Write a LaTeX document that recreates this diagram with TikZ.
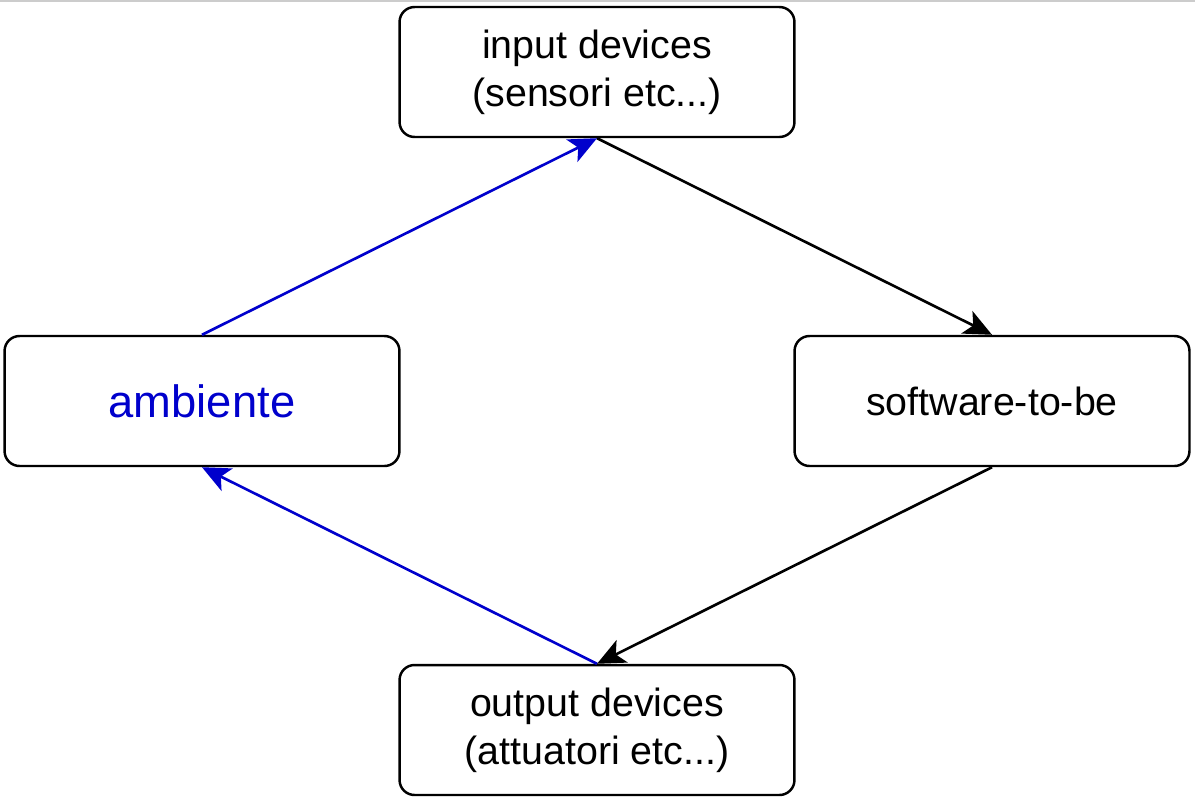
\documentclass[tikz,border=0pt]{standalone}
\usepackage{fontspec}
\setmainfont{Liberation Sans}
\usetikzlibrary{arrows.meta}
\definecolor{envblue}{RGB}{0,0,204}
\begin{document}
\begin{tikzpicture}[x=0.02cm,y=-0.02cm,every node/.style={draw,rounded corners=0.3cm,line width=1.4pt,minimum width=7.9cm,minimum height=2.6cm,align=center,font=\fontsize{22.4}{27.4}\selectfont}]

  \useasboundingbox (0,0) rectangle (1195,801);
  \draw[gray!40,line width=1.2pt] (0,0.5) -- (1195,0.5);

  % Specification of nodes (position, etc.)
  \node (inp) at (597,72) {input devices\\(sensori etc...)};
  \node (amb) at (202,401) {\fontsize{25.8}{30}\selectfont\color{envblue}ambiente};
  \node (sw) at (992,401) {software-to-be};
  \node (outp) at (597,730) {output devices\\(attuatori etc...)};

  \begin{scope}[line width=1.5pt,-{Stealth[length=0.56cm,width=0.5cm,inset=0.14cm]}]
    \draw (inp.south) to (sw.north);
    \draw (sw.south) to (outp.north);
    \draw[envblue] (outp.north) to (amb.south);
    \draw[envblue] (amb.north) to (inp.south);
  \end{scope}

\end{tikzpicture}
\end{document}
